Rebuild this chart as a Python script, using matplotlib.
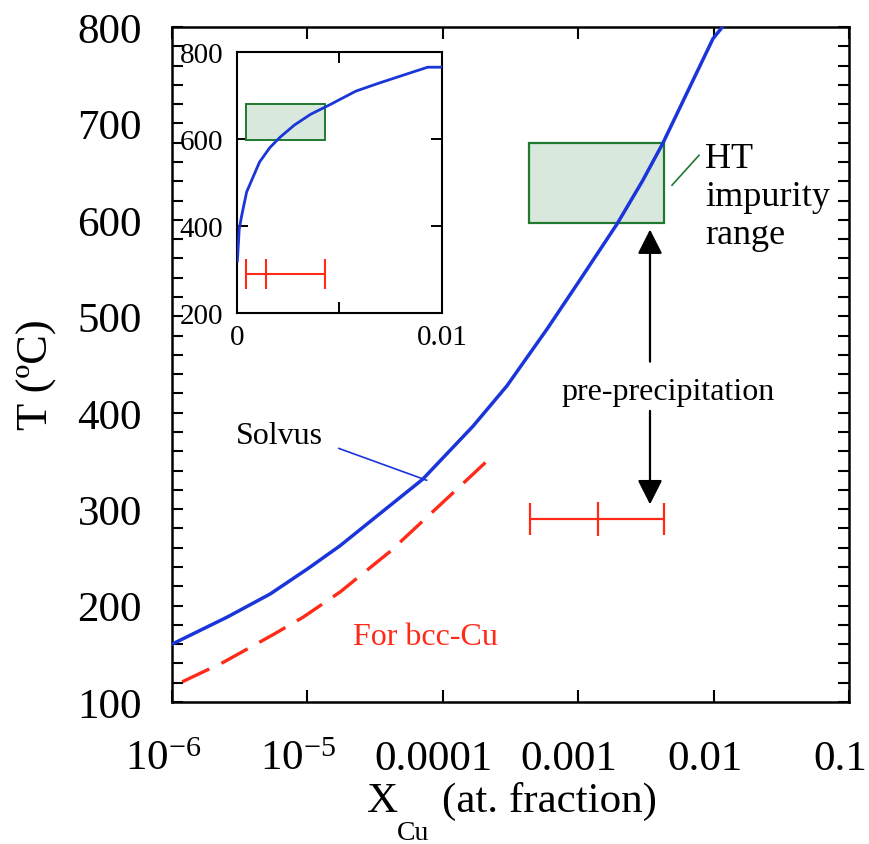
import numpy as np
import matplotlib.pyplot as plt
from matplotlib.patches import Rectangle
from matplotlib.transforms import ScaledTranslation

plt.rcParams['font.family'] = ['Liberation Serif', 'DejaVu Serif']
plt.rcParams['mathtext.fontset'] = 'custom'
plt.rcParams['mathtext.rm'] = 'Liberation Serif'
plt.rcParams['mathtext.default'] = 'regular'

solvus_x = [1e-6, 2.55e-6, 5.3e-6, 1e-5, 1.74e-5, 3.27e-5, 7.1e-5, 1.67e-4,
            2.98e-4, 5.9e-4, 1e-3, 1.94e-3, 3e-3, 4.2e-3, 9.9e-3, 1.16e-2]
solvus_T = [160, 188, 212, 238, 262, 293, 331, 386, 428, 487, 535, 596, 641, 679, 788, 800]

# bcc-Cu solvus (dashed)
bcc_x = [1.19e-6, 2.38e-6, 5.6e-6, 9.3e-6, 1.74e-5, 4.07e-5, 1.13e-4, 2.2e-4]
bcc_T = [121, 141, 170, 188, 214, 256, 314, 352]

# solvus as drawn in the linear inset
inset_x = [0.00002, 0.00011, 0.00023, 0.00047, 0.0011, 0.0016, 0.0021, 0.0028,
           0.0036, 0.0045, 0.0058, 0.0069, 0.0080, 0.0093, 0.0100]
inset_T = [320, 393, 424, 478, 547, 580, 604, 632, 657, 678, 710, 728, 745, 765, 765]

# HT impurity range box
ht_x = [4.3e-4, 4.3e-3]
ht_T = [597, 680]

# pre-precipitation range (low, centre, high) and its temperature
pre_x = [4.4e-4, 1.4e-3, 4.3e-3]
pre_T = 290

xticks = [1e-6, 1e-5, 1e-4, 1e-3, 1e-2, 1e-1]
xticklabels = ['$10^{-6}$', '$10^{-5}$', '0.0001', '0.001', '0.01', '0.1']

blue = '#1a35d9'
red = '#ff2a18'
green = '#1f7a30'
face = '#d9e8dc'

fig = plt.figure(figsize=(8.69, 8.45), dpi=100)
ax = fig.add_axes([0.1979, 0.1680, 0.7791, 0.7988])

ax.plot(solvus_x, solvus_T, color=blue, lw=2.5, zorder=3)
ax.plot(bcc_x, bcc_T, color=red, lw=2.4, dashes=(9, 4), zorder=3)

ax.add_patch(Rectangle((ht_x[0], ht_T[0]), ht_x[1] - ht_x[0], ht_T[1] - ht_T[0],
                       facecolor=face, edgecolor=green, lw=1.6, zorder=2))

ax.errorbar([pre_x[1]], [pre_T], xerr=[[pre_x[1] - pre_x[0]], [pre_x[2] - pre_x[1]]],
            fmt='|', ms=24, mew=1.6, capsize=11.5, capthick=1.6, elinewidth=1.6,
            color=red, zorder=3)

arr_x = 3.39e-3
arrow = dict(arrowstyle='-|>,head_length=0.75,head_width=0.38', mutation_scale=20,
             lw=1.6, color='k', shrinkA=0, shrinkB=0)
ax.annotate('', xy=(arr_x, 590), xytext=(arr_x, 453), arrowprops=arrow)
ax.annotate('', xy=(arr_x, 305), xytext=(arr_x, 402), arrowprops=arrow)
ax.text(4.6e-3, 422, 'pre-precipitation', ha='center', va='center', fontsize=23)

ax.text(8.65e-3, 624, 'HT\nimpurity\nrange', ha='left', va='center', fontsize=26,
        linespacing=1.2)
ax.plot([4.93e-3, 7.8e-3], [636, 667], color=green, lw=1.2)

ax.text(6.2e-6, 376, 'Solvus', ha='center', va='center', fontsize=23)
ax.plot([1.71e-5, 7.6e-5], [363, 330], color=blue, lw=1.2)
ax.text(7.5e-5, 168, 'For bcc-Cu', ha='center', va='center', fontsize=23, color=red)

ax.set_xscale('log')
ax.set_xlim(1e-6, 0.1)
ax.set_ylim(100, 800)
ax.set_xticks(xticks, xticklabels)
ax.xaxis.set_minor_locator(plt.NullLocator())
ax.set_yticks(np.arange(100, 801, 100))
ax.set_yticks(np.arange(100, 801, 20), minor=True)
ax.tick_params(axis='both', which='both', direction='in', top=True, right=True,
               width=1.5, labelsize=31)
ax.tick_params(axis='x', length=8.5, pad=48)
ax.tick_params(axis='y', which='both', length=8, pad=21.5)
shift = ScaledTranslation(-0.09, 0, fig.dpi_scale_trans)
for lbl in ax.get_xticklabels():
    lbl.set_va('baseline')
    lbl.set_transform(lbl.get_transform() + shift)
for s in ax.spines.values():
    s.set_linewidth(1.8)

# axis titles
fig.text(37 / 869, 1 - 375 / 845, 'T (ºC)', rotation=90, ha='center', va='center',
         fontsize=32)
fig.text(367 / 869, 1 - 812 / 845, 'X', ha='left', va='baseline', fontsize=31)
fig.text(397 / 869, 1 - 840 / 845, 'Cu', ha='left', va='baseline', fontsize=20)
fig.text(442 / 869, 1 - 812 / 845, '(at. fraction)', ha='left', va='baseline',
         fontsize=31)

# inset, linear x
ax_in = fig.add_axes([0.2727, 0.6284, 0.2359, 0.3089])
ax_in.plot(inset_x, inset_T, color=blue, lw=2, zorder=3)
ax_in.add_patch(Rectangle((ht_x[0], ht_T[0]), ht_x[1] - ht_x[0], ht_T[1] - ht_T[0],
                          facecolor=face, edgecolor=green, lw=1.4, zorder=2))
ax_in.errorbar([pre_x[1]], [pre_T], xerr=[[pre_x[1] - pre_x[0]], [pre_x[2] - pre_x[1]]],
               fmt='|', ms=22, mew=1.5, capsize=10.5, capthick=1.5, elinewidth=1.5,
               color=red, zorder=3)
ax_in.set_xlim(0, 0.01)
ax_in.set_ylim(200, 800)
ax_in.set_xticks([0, 0.005, 0.01], ['0', '', '0.01'])
ax_in.set_yticks([200, 400, 600, 800])
ax_in.tick_params(axis='both', direction='in', top=True, right=True, length=8,
                  width=1.4, labelsize=21)
ax_in.tick_params(axis='x', pad=8)
ax_in.tick_params(axis='y', pad=10)
for s in ax_in.spines.values():
    s.set_linewidth(1.5)

fig.savefig('out.png', dpi=100)
